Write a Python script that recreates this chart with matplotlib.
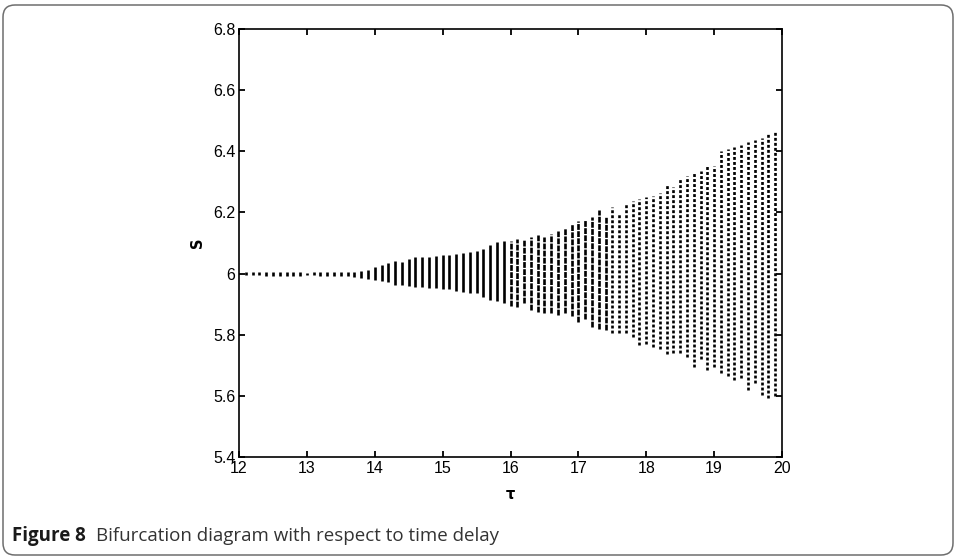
import matplotlib
matplotlib.use("Agg")
import matplotlib.pyplot as plt
from matplotlib.patches import FancyBboxPatch

tau = [12.1, 12.2, 12.3, 12.4, 12.5, 12.6, 12.7, 12.8, 12.9, 13.0,
       13.1, 13.2, 13.3, 13.4, 13.5, 13.6, 13.7, 13.8, 13.9, 14.0,
       14.1, 14.2, 14.3, 14.4, 14.5, 14.6, 14.7, 14.8, 14.9, 15.0,
       15.1, 15.2, 15.3, 15.4, 15.5, 15.6, 15.7, 15.8, 15.9, 16.0,
       16.1, 16.2, 16.3, 16.4, 16.5, 16.6, 16.7, 16.8, 16.9, 17.0,
       17.1, 17.2, 17.3, 17.4, 17.5, 17.6, 17.7, 17.8, 17.9, 18.0,
       18.1, 18.2, 18.3, 18.4, 18.5, 18.6, 18.7, 18.8, 18.9, 19.0,
       19.1, 19.2, 19.3, 19.4, 19.5, 19.6, 19.7, 19.8, 19.9]

s_low = [5.995, 5.994, 5.994, 5.993, 5.993, 5.993, 5.993, 5.993, 5.993, 5.995,
         5.994, 5.993, 5.993, 5.992, 5.991, 5.991, 5.990, 5.987, 5.983, 5.980,
         5.977, 5.973, 5.963, 5.963, 5.959, 5.957, 5.955, 5.952, 5.952, 5.948,
         5.948, 5.944, 5.940, 5.937, 5.935, 5.924, 5.913, 5.911, 5.905, 5.895,
         5.890, 5.903, 5.881, 5.873, 5.872, 5.870, 5.864, 5.870, 5.862, 5.843,
         5.850, 5.826, 5.818, 5.815, 5.807, 5.807, 5.804, 5.791, 5.766, 5.769,
         5.759, 5.752, 5.737, 5.739, 5.739, 5.728, 5.695, 5.719, 5.685, 5.695,
         5.674, 5.665, 5.652, 5.657, 5.619, 5.641, 5.603, 5.592, 5.599]

s_high = [6.004, 6.005, 6.005, 6.005, 6.006, 6.006, 6.005, 6.006, 6.005, 6.003,
          6.004, 6.005, 6.005, 6.006, 6.005, 6.006, 6.006, 6.008, 6.012, 6.020,
          6.028, 6.034, 6.042, 6.038, 6.049, 6.053, 6.053, 6.053, 6.057, 6.061,
          6.062, 6.064, 6.066, 6.071, 6.075, 6.081, 6.094, 6.103, 6.106, 6.107,
          6.113, 6.114, 6.119, 6.125, 6.121, 6.129, 6.140, 6.148, 6.162, 6.173,
          6.175, 6.184, 6.208, 6.186, 6.217, 6.199, 6.230, 6.237, 6.243, 6.249,
          6.254, 6.265, 6.293, 6.284, 6.312, 6.319, 6.328, 6.337, 6.355, 6.352,
          6.402, 6.406, 6.413, 6.421, 6.431, 6.437, 6.442, 6.461, 6.464]

x_ticks = [12, 13, 14, 15, 16, 17, 18, 19, 20]
x_ticklabels = ["12", "13", "14", "15", "16", "17", "18", "19", "20"]
y_ticks = [5.4, 5.6, 5.8, 6.0, 6.2, 6.4, 6.6, 6.8]
y_ticklabels = ["5.4", "5.6", "5.8", "6", "6.2", "6.4", "6.6", "6.8"]

W, H = 955, 559
fig = plt.figure(figsize=(W / 100, H / 100), dpi=100)
fig.patch.set_facecolor("white")

# rounded frame around the figure
frame = FancyBboxPatch((0.03, 0.04), 9.50, 5.50,
                       boxstyle="round,pad=0,rounding_size=0.12",
                       transform=fig.dpi_scale_trans, fill=False,
                       edgecolor="#6e6e6e", linewidth=1.1, zorder=0)
fig.patches.append(frame)

ax = fig.add_axes([239 / W, 1 - 457 / H, (782 - 239) / W, (457 - 29) / H])

for t, lo, hi in zip(tau, s_low, s_high):
    if t < 15.95:
        ls = "-"
    elif t < 17.45:
        ls = (0, (2.2, 0.5))
    else:
        ls = (0, (1.1, 0.8))
    ax.vlines(t, lo, hi, colors="black", linewidth=1.9, linestyles=ls)

ax.set_xlim(12, 20)
ax.set_ylim(5.4, 6.8)
ax.set_xticks(x_ticks)
ax.set_xticklabels(x_ticklabels, fontfamily="Liberation Sans", fontsize=11.5)
ax.set_yticks(y_ticks)
ax.set_yticklabels(y_ticklabels, fontfamily="Liberation Sans", fontsize=11.5)
ax.tick_params(direction="in", top=True, right=True, length=4, width=1.3,
               pad=2.5, colors="black")
ax.tick_params(axis="x", pad=3)
for sp in ax.spines.values():
    sp.set_linewidth(1.2)
    sp.set_color("black")

ax.set_ylabel("S", fontfamily="DejaVu Sans", fontweight="bold", fontsize=10.5,
              labelpad=6)
ax.set_xlabel("τ", fontfamily="DejaVu Sans", fontweight="bold", fontsize=10.5,
              labelpad=8)

# caption
cap_y = 1 - 541 / H
t1 = fig.text(12 / W, cap_y, "Figure 8", fontfamily="Open Sans",
              fontweight="bold", fontsize=13.5, color="#1a1a1a")
fig.canvas.draw()
bb = t1.get_window_extent()
fig.text((bb.x1 + 10) / W, cap_y, "Bifurcation diagram with respect to time delay",
         fontfamily="Open Sans", fontsize=13.5, color="#333333")

fig.savefig("out.png", dpi=100)
